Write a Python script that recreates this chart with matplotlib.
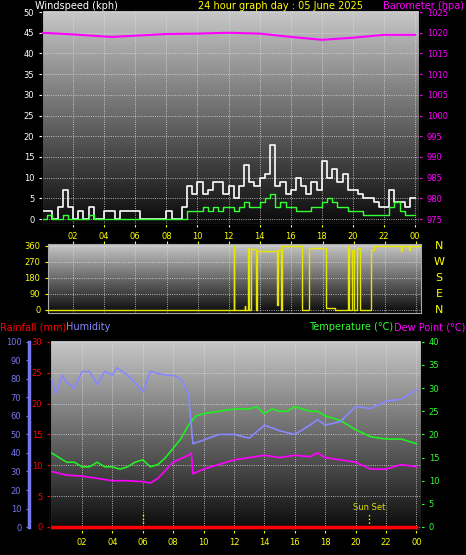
import numpy as np
import matplotlib
matplotlib.use("Agg")
import matplotlib.pyplot as plt
from matplotlib.colors import LinearSegmentedColormap

# ---------------- data ----------------
hour_ticks = [2, 4, 6, 8, 10, 12, 14, 16, 18, 20, 22, 24]
hour_labels = ["02", "04", "06", "08", "10", "12", "14", "16", "18", "20", "22", "00"]

wind_t = [i / 3 for i in range(73)]
gust = [2, 2, 0, 3, 7, 3, 0, 2, 0, 3, 0, 0, 2, 2, 0, 2, 2, 2, 2, 0, 0, 0, 0, 0,
        2, 0, 0, 3, 8, 6, 9, 6, 7, 9, 9, 6, 8, 5, 8, 13, 9, 8, 10, 11, 18, 8, 9, 6,
        7, 10, 8, 6, 9, 7, 14, 10, 12, 9, 11, 7, 7, 6, 5, 5, 4, 3, 3, 7, 4, 4, 3, 5, 5]
wind_avg = [0, 1, 0, 0, 1, 0, 0, 0, 0, 1, 0, 0, 0, 0, 0, 0, 0, 0, 0, 0, 0, 0, 0, 0,
            0, 0, 0, 0, 2, 2, 2, 3, 2, 3, 2, 3, 3, 2, 3, 4, 3, 3, 4, 5, 6, 3, 4, 3,
            3, 2, 2, 2, 3, 3, 4, 5, 4, 3, 3, 2, 2, 2, 1, 1, 1, 1, 1, 3, 4, 2, 1, 1, 1]

baro_t = [0, 2, 4, 4.5, 6, 8, 10, 12, 14, 16, 18, 20, 22, 24]
baro = [1020, 1019.6, 1019.1, 1019.0, 1019.3, 1019.7, 1019.8, 1020.0, 1019.8, 1019.0, 1018.3, 1018.8, 1019.5, 1019.5]

dir_t = [0, 12.3, 12.35, 13.0, 13.05, 13.2, 13.25, 13.4, 13.7, 13.8, 15.1, 15.15, 15.3, 15.4,
         16.7, 17.1, 18.2, 18.8, 19.6, 19.7, 19.9, 20.0, 20.2, 20.4, 21.1, 21.3, 23.0, 23.1, 23.5, 23.6, 24.3]
wdir = [0, 360, 0, 20, 0, 350, 0, 345, 0, 330, 30, 340, 0, 360,
        0, 350, 10, 0, 360, 0, 340, 0, 350, 0, 340, 360, 330, 360, 340, 360, 360]

temp_t = [0, 0.5, 1, 1.5, 2, 2.5, 3, 3.5, 4, 4.5, 5, 5.5, 6, 6.5, 7, 7.5, 8, 8.5, 9, 9.5, 10, 11, 12,
          13, 13.5, 14, 14.5, 15, 15.5, 16, 17, 17.5, 18, 19, 20, 21, 22, 23, 24]
temp = [16, 15, 14, 14, 13, 13, 14, 13, 13, 12.5, 13, 14, 14.5, 13, 13.5, 15, 17, 19, 22, 24, 24.5, 25, 25.5,
        25.5, 26, 24.5, 25.5, 25, 25, 26, 25, 25, 24, 23, 21, 19.5, 19, 19, 18]

hum_t = [0, 0.3, 0.7, 1, 1.5, 2, 2.5, 3, 3.5, 4, 4.3, 5, 5.5, 6, 6.5, 7, 7.5, 8, 8.5, 9, 9.3, 10, 11,
         12, 13, 14, 15, 16, 17, 17.5, 18, 19, 20, 21, 22, 23, 24]
hum = [80, 72, 82, 78, 75, 84, 84, 77, 84, 82, 86, 82, 78, 73, 84, 83, 82, 82, 80, 72, 45, 47, 50,
       50, 48, 55, 52, 50, 55, 58, 55, 57, 65, 64, 68, 69, 74]

dew_t = [0, 1, 2, 3, 4, 5, 6, 6.5, 7, 8, 9, 9.2, 9.3, 10, 11, 12, 13, 14, 15, 16, 17, 17.5, 18, 19, 20, 21, 22, 23, 24]
dew = [12, 11.2, 11, 10.5, 10, 10, 9.8, 9.5, 10.5, 14, 15.5, 16, 11.5, 12.5, 13.5, 14.5, 15, 15.5, 15, 15.5, 15.2, 16,
       15, 14.5, 14, 12.5, 12.5, 13.5, 13]

rain_t = [0, 24]
rain = [0, 0]

# ---------------- styling ----------------
W, H = 466, 555
fig = plt.figure(figsize=(W / 100, H / 100), dpi=100, facecolor="black")
cmap = LinearSegmentedColormap.from_list("bg", ["#0a0a0a", "#c8c8c8"])
YEL = "#ffff00"
FS = 6
TS = 7


def pos(l, t, r, b):
    return [l / W, 1 - b / H, (r - l) / W, (b - t) / H]


def background(ax):
    grad = np.linspace(0, 1, 256).reshape(-1, 1)
    ax.imshow(grad, aspect="auto", cmap=cmap, origin="lower",
              extent=[*ax.get_xlim(), *ax.get_ylim()], zorder=0)
    ax.grid(True, color="#dddddd", ls=":", lw=0.6, zorder=1)
    for s in ax.spines.values():
        s.set_color("#aaaaaa")


# ---------------- top panel ----------------
ax1 = fig.add_axes(pos(42, 10, 419, 224))
ax1.set_xlim(0, 24.25)
ax1.set_ylim(-1.2, 50.5)
ax1.set_yticks(range(0, 51, 5))
ax1.set_xticks(hour_ticks)
ax1.set_xticklabels(hour_labels)
ax1.tick_params(axis="x", colors=YEL, labelsize=FS, length=2, pad=4)
ax1.tick_params(axis="y", colors="white", labelsize=FS, length=2)
background(ax1)
ax1.step(wind_t, gust, where="post", color="white", lw=1.2, zorder=3)
ax1.step(wind_t, wind_avg, where="post", color="#33ff33", lw=1.0, zorder=4)
ax1b = ax1.twinx()
ax1b.set_ylim(973.8, 1025.5)
ax1b.set_yticks(range(975, 1026, 5))
ax1b.tick_params(axis="y", colors="#ff00ff", labelsize=FS, length=2)
ax1b.plot(baro_t, baro, color="#ff00ff", lw=1.5, zorder=5)
fig.text(35 / W, 1 - 6 / H, "Windspeed (kph)", color="white", fontsize=TS, va="center")
fig.text(280 / W, 1 - 6 / H, "24 hour graph day : 05 June 2025", color=YEL, fontsize=TS, va="center", ha="center")
fig.text(464 / W, 1 - 6 / H, "Barometer (hpa)", color="#ff00ff", fontsize=TS, va="center", ha="right")

# ---------------- middle panel ----------------
ax2 = fig.add_axes(pos(48, 244, 421, 313))
ax2.set_xlim(0.4, 24.3)
ax2.set_ylim(-17, 371)
ax2.set_yticks([0, 90, 180, 270, 360])
ax2.set_xticks(hour_ticks)
ax2.xaxis.tick_top()
ax2.tick_params(axis="x", colors=YEL, labeltop=False, length=2)
ax2.tick_params(axis="y", colors=YEL, labelsize=FS, length=2)
background(ax2)
ax2.step(dir_t, wdir, where="post", color="#e6e600", lw=1.0, zorder=3)
for i, c in enumerate(["N", "W", "S", "E", "N"]):
    fig.text(439 / W, 1 - (246 + 16 * i) / H, c, color=YEL, fontsize=8, va="center", ha="center")

# ---------------- bottom panel ----------------
ax3 = fig.add_axes(pos(50, 340, 421, 530))
ax3.set_xlim(-0.1, 24.3)
ax3.set_ylim(-0.49, 30.3)
ax3.set_yticks(range(0, 31, 5))
ax3.set_xticks(hour_ticks)
ax3.set_xticklabels(hour_labels)
ax3.tick_params(axis="x", colors=YEL, labelsize=FS, length=2, pad=4)
ax3.tick_params(axis="y", colors="red", labelsize=FS, length=2)
background(ax3)
ax3.plot(rain_t, rain, color="red", lw=2.5, zorder=6)
for tt, lab in [(6.0, ""), (20.9, "Sun Set")]:
    ax3.plot([tt, tt], [0, 2.2], color=YEL, ls=":", lw=1, zorder=5)
    if lab:
        ax3.text(tt, 3.2, lab, color="#dddd00", fontsize=6, ha="center", va="center", zorder=5)

ax3t = ax3.twinx()
ax3t.set_ylim(-0.65, 40.4)
ax3t.set_yticks(range(0, 41, 5))
ax3t.tick_params(axis="y", colors="#33ff33", labelsize=FS, length=2)
ax3t.plot(temp_t, temp, color="#22ee22", lw=1.2)
ax3t.plot(dew_t, dew, color="#ff00ff", lw=1.2)

ax3h = ax3.twinx()
ax3h.set_ylim(-1.6, 101)
ax3h.set_yticks(range(0, 101, 10))
ax3h.yaxis.tick_left()
ax3h.spines["left"].set_position(("axes", -21 / 371))
ax3h.spines["left"].set_color("#7777ee")
ax3h.spines["left"].set_linewidth(2.5)
ax3h.spines["left"].set_bounds(0, 100)
for s in ["right", "top", "bottom"]:
    ax3h.spines[s].set_visible(False)
ax3h.tick_params(axis="y", colors="#7777ee", labelsize=FS, length=2)
ax3h.plot(hum_t, hum, color="#8888ff", lw=1.2)

fig.text(0, 1 - 327 / H, "Rainfall (mm)", color="red", fontsize=TS, va="center")
fig.text(66 / W, 1 - 327 / H, "Humidity", color="#8888ff", fontsize=TS, va="center")
fig.text(393 / W, 1 - 327 / H, "Temperature (°C)", color="#33ff33", fontsize=TS, va="center", ha="right")
fig.text(465 / W, 1 - 327 / H, "Dew Point (°C)", color="#ff00ff", fontsize=TS, va="center", ha="right")

fig.savefig("out.png", dpi=100, facecolor="black")
